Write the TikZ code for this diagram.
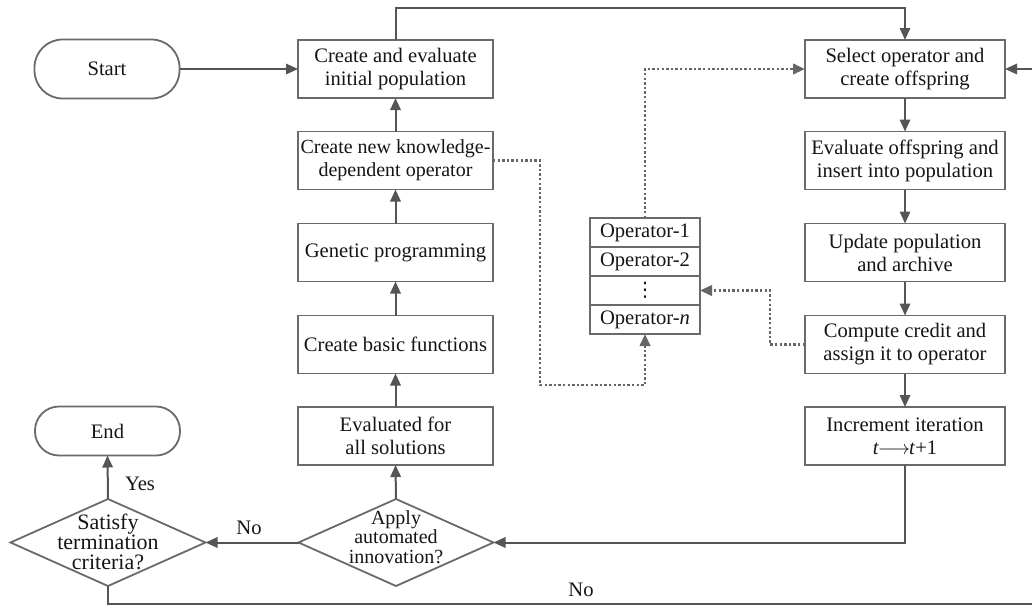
\documentclass[tikz,border=0pt]{standalone}
\usepackage{fontspec}
\setmainfont{Liberation Serif}
\newfontfamily\symfont{DejaVu Sans}
\usetikzlibrary{arrows.meta,shapes.geometric}
\definecolor{boxc}{HTML}{6A6A6A}
\definecolor{linec}{HTML}{555555}
\definecolor{dotc}{HTML}{666666}
\definecolor{txtc}{HTML}{151515}
\begin{document}
\begin{tikzpicture}[x=0.5pt,y=-0.5pt,
  font=\fontsize{10.3}{11.5}\selectfont, text=txtc,
  box/.style={draw=boxc, line width=0.9pt, minimum height=29pt, align=center, inner sep=1pt, outer sep=0pt},
  lbox/.style={box, minimum width=97.5pt},
  rbox/.style={box, minimum width=100pt},
  term/.style={draw=boxc, line width=0.9pt, rounded corners=14pt, minimum width=72.5pt, minimum height=29.5pt, outer sep=0pt},
  dia/.style={draw=boxc, line width=0.9pt, diamond, inner sep=0pt, outer sep=0pt, minimum width=97.5pt, minimum height=43.5pt},
  diatext/.style={align=center, inner sep=0pt, font=\fontsize{10}{9.6}\selectfont},
  oprow/.style={draw=boxc, line width=0.9pt, minimum width=55pt, minimum height=14.5pt, inner sep=0pt, outer sep=0pt},
  line/.style={draw=linec, line width=1pt, -{Triangle[length=6pt,width=5.2pt]}},
  dotline/.style={draw=dotc, line width=1.3pt, dash pattern=on 1.2pt off 1.1pt, -{Triangle[length=6pt,width=5.2pt]}},
]
\clip (0,0) rectangle (1032,605);

% left column
\node[term] (start) at (107,69) {Start};
\node[lbox] (init) at (395.5,69) {Create and evaluate\\initial population};
\node[lbox, font=\fontsize{10}{11.5}\selectfont] (kdo) at (395.5,160.5) {Create new knowledge-\\dependent operator};
\node[lbox] (gp) at (395.5,252.5) {Genetic programming};
\node[lbox] (cbf) at (395.5,344.5) {Create basic functions};
\node[lbox] (evs) at (395.5,436) {Evaluated for\\all solutions};
\node[dia] (apply) at (396,542.5) {};
\node[diatext] (applyt) at (396,537) {Apply\\automated\\innovation?};
\node[dia] (sat) at (108,542.5) {};
\node[diatext, font=\fontsize{11}{10}\selectfont] (satt) at (108,542) {Satisfy\\termination\\criteria?};
\node[term, minimum height=24.5pt, rounded corners=12pt] (end) at (107.5,431) {End};

% right column
\node[rbox] (sel) at (905,69) {Select operator and\\create offspring};
\node[rbox] (evo) at (905,160.5) {Evaluate offspring and\\insert into population};
\node[rbox] (upd) at (905,252.5) {Update population\\and archive};
\node[rbox] (cmp) at (905,344.5) {Compute credit and\\assign it to operator};
\node[rbox] (inc) at (905,436) {Increment iteration\\\textit{t}\kern-0.5pt$\longrightarrow$\kern-0.5pt\textit{t}+1};

% operator stack
\node[oprow] (op1) at (645,232.5) {Operator-1};
\node[oprow] (op2) at (645,261.5) {Operator-2};
\node[oprow] (opd) at (645,290.5) {\symfont\fontsize{10}{10}\selectfont ⋮};
\node[oprow] (opn) at (645,319.5) {Operator-\textit{n}};

% labels
\node (yes) at (140,484) {Yes};
\node (no1) at (249,528) {No};
\node (no2) at (581,590) {No};

% coordinates
\coordinate (topr) at (905,8);
\coordinate (br) at (1045,603.5);

% solid connectors
\draw[line] (start.east) -- (init.west);
\draw[line] (init.north) |- (topr) -- (sel.north);
\draw[line] (kdo.north) -- (init.south);
\draw[line] (gp.north) -- (kdo.south);
\draw[line] (cbf.north) -- (gp.south);
\draw[line] (evs.north) -- (cbf.south);
\draw[line] (apply.north) -- (evs.south);
\draw[line] (sel.south) -- (evo.north);
\draw[line] (evo.south) -- (upd.north);
\draw[line] (upd.south) -- (cmp.north);
\draw[line] (cmp.south) -- (inc.north);
\draw[line] (inc.south) |- (apply.east);
\draw[line] (apply.west) -- (sat.east);
\draw[line] (sat.north) -- (end.south);
\draw[line] (sat.south) |- (br) |- (sel.east);

% dotted connectors
\draw[dotline] (kdo.east) -| (540,385) -| (opn.south);
\draw[dotline] (op1.north) |- (sel.west);
\draw[dotline] (cmp.west) -| (770,290.5) -- (opd.east);
\end{tikzpicture}
\end{document}
